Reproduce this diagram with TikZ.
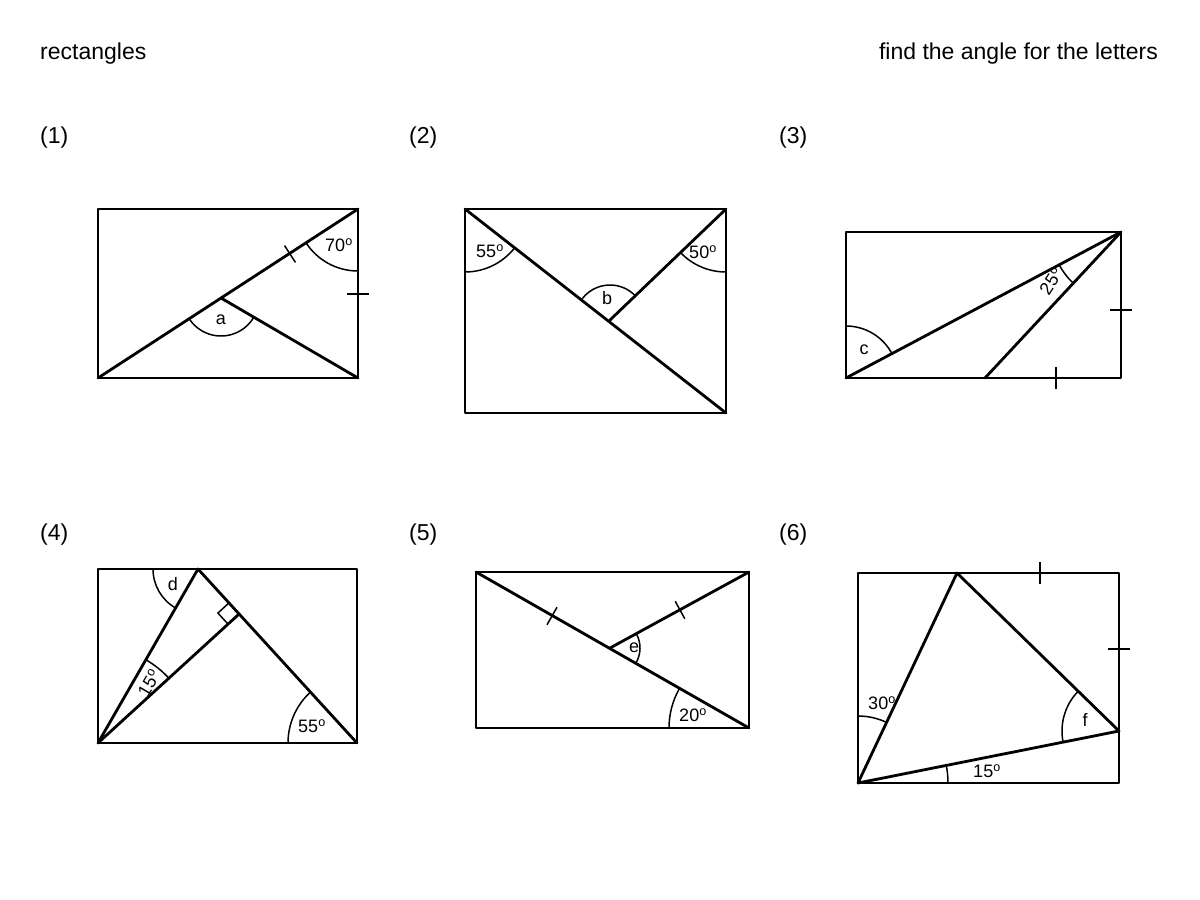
\documentclass[tikz,border=0pt]{standalone}
\usepackage{fontspec}
\setmainfont{Liberation Sans}
\usetikzlibrary{calc}
\newcommand{\dg}[1]{#1\textsuperscript{o}}
\begin{document}
\begin{tikzpicture}[x=1pt,y=-1pt,
  L/.style={line width=2.8pt,line join=round,line cap=round},
  A/.style={line width=1.5pt},
  T/.style={line width=1.5pt},
  lab/.style={font=\fontsize{18}{18}\selectfont,inner sep=0pt},
  ttl/.style={font=\fontsize{23}{23}\selectfont,inner sep=0pt}]
\useasboundingbox (0,0) rectangle (1200,900);
\node[ttl,anchor=base west] (t1) at (40,59) {rectangles};
\node[ttl,anchor=base east] (t2) at (1158,59) {find the angle for the letters};
\foreach \n/\x/\y in {1/40/143,2/409/143,3/779/143,4/40/540,5/409/540,6/779/540}
  \node[ttl,anchor=base west] (h\n) at (\x,\y) {(\n)};
% (1)
\coordinate (a1) at (98,378); \coordinate (a2) at (358,378); \coordinate (a3) at (358,209); \coordinate (a4) at (98,209); \coordinate (ap) at (221,298);
\draw[L] (a1) rectangle (a3); \draw[L] (a1)--(a3); \draw[L] (ap)--(a2);
\draw[A] ($(a3)+(90:62)$) arc (90:147:62);
\draw[A] ($(ap)+(30.3:38)$) arc (30.3:147:38);
\draw[T] ($(290,254)+(57:10)$)--($(290,254)+(237:10)$);
\draw[T] (347,294)--(369,294);
\node[lab] (la) at (221,320) {a};
\node[lab] (l70) at (339,245) {\dg{70}};
% (2)
\coordinate (b1) at (465,209); \coordinate (b2) at (726,209); \coordinate (b3) at (726,413); \coordinate (b4) at (465,413); \coordinate (bp) at (610,320);
\draw[L] (b1) rectangle (b3); \draw[L] (b1)--(b3); \draw[L] (bp)--(b2);
\draw[A] ($(b1)+(38:63)$) arc (38:90:63);
\draw[A] ($(b2)+(90:63)$) arc (90:136.3:63);
\draw[A] ($(bp)+(217.4:35)$) arc (217.4:316.3:35);
\node[lab] (lb) at (607,298) {b};
\node[lab] (l55) at (490,251) {\dg{55}};
\node[lab] (l50) at (703,252) {\dg{50}};
% (3)
\coordinate (c1) at (846,378); \coordinate (c2) at (1121,232); \coordinate (cp) at (985,378);
\draw[L] (846,232) rectangle (1121,378); \draw[L] (c1)--(c2); \draw[L] (cp)--(c2);
\draw[A] ($(c1)+(270:52)$) arc (270:332:52);
\draw[A] ($(c2)+(133:70)$) arc (133:152:70);
\draw[T] (1110,310)--(1132,310);
\draw[T] (1056,367)--(1056,389);
\node[lab] (lc) at (864,350) {c};
\node[lab,rotate=57] (l25) at (1051,281) {\dg{25}};
% (4)
\coordinate (d1) at (98,743); \coordinate (d2) at (357,743); \coordinate (dv) at (198,569);
\coordinate (df) at (239.1,614);
\draw[L] (98,569) rectangle (357,743); \draw[L] (d1)--(dv)--(d2); \draw[L] (d1)--(df);
\draw[A] ($(df)+(-0.6746*15,-0.7382*15)$) -- ++(-0.738*15,0.675*15) -- ($(df)+(-0.738*15,0.675*15)$);
\draw[A] ($(dv)+(120:45)$) arc (120:180:45);
\draw[A] ($(d1)+(300:96)$) arc (300:317.5:96);
\draw[A] ($(d2)+(180:69)$) arc (180:227.6:69);
\node[lab] (ld) at (173,584) {d};
\node[lab,rotate=60] (l15) at (149,683) {\dg{15}};
\node[lab] (l55b) at (312,726) {\dg{55}};
% (5)
\coordinate (e1) at (476,572); \coordinate (e2) at (749,728); \coordinate (e3) at (749,572); \coordinate (ep) at (610,648);
\draw[L] (476,572) rectangle (749,728); \draw[L] (e1)--(e2); \draw[L] (ep)--(e3);
\draw[A] ($(ep)+(-28.7:30)$) arc (-28.7:29.9:30);
\draw[A] ($(e2)+(180:80)$) arc (180:209.7:80);
\draw[T] ($(552,616)+(119.7:10)$)--($(552,616)+(299.7:10)$);
\draw[T] ($(680,610)+(61.3:10)$)--($(680,610)+(241.3:10)$);
\node[lab] (le) at (634,648) {e};
\node[lab] (l20) at (693,715) {\dg{20}};
% (6)
\coordinate (f1) at (858,783); \coordinate (f2) at (957,573); \coordinate (f3) at (1119,731);
\draw[L] (858,573) rectangle (1119,783); \draw[L] (f1)--(f2)--(f3)--cycle;
\draw[A] ($(f1)+(270:67)$) arc (270:295.2:67);
\draw[A] ($(f1)+(348.7:90)$) arc (348.7:360:90);
\draw[A] ($(f3)+(168.7:57)$) arc (168.7:224.3:57);
\draw[T] (1040,562)--(1040,584);
\draw[T] (1108,649)--(1130,649);
\node[lab] (l30) at (882,703) {\dg{30}};
\node[lab] (l15b) at (987,771) {\dg{15}};
\node[lab] (lf) at (1085,720) {f};
\end{tikzpicture}
\end{document}
